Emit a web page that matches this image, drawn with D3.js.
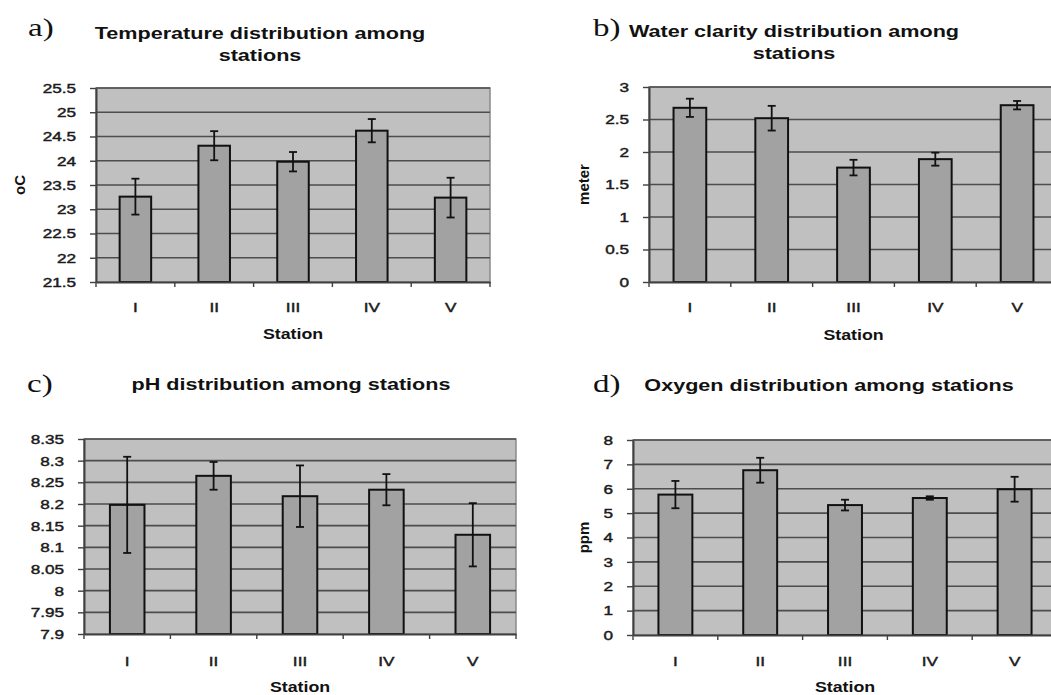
<!DOCTYPE html>
<html>
<head>
<meta charset="utf-8">
<script src="https://cdn.jsdelivr.net/npm/d3@7"></script>
<style>
  body { margin: 0; background: #fff; }
  svg { display: block; }
</style>
</head>
<body>
<div id="chart"></div>
<script>
// data
const stations = ["I", "II", "III", "IV", "V"];

const tempMean = [23.26, 24.31, 23.98, 24.62, 23.24];
const tempErr = [0.37, 0.30, 0.20, 0.24, 0.41];
const tempTicks = [21.5, 22, 22.5, 23, 23.5, 24, 24.5, 25, 25.5];

const clarityMean = [2.68, 2.52, 1.76, 1.89, 2.72];
const clarityErr = [0.14, 0.19, 0.12, 0.10, 0.065];
const clarityTicks = [0, 0.5, 1, 1.5, 2, 2.5, 3];

const phMean = [8.198, 8.265, 8.218, 8.233, 8.129];
const phErr = [0.111, 0.032, 0.071, 0.036, 0.073];
const phTicks = [7.9, 7.95, 8, 8.05, 8.1, 8.15, 8.2, 8.25, 8.3, 8.35];

const oxyMean = [5.76, 6.76, 5.33, 5.62, 5.98];
const oxyErr = [0.56, 0.51, 0.22, 0.07, 0.51];
const oxyTicks = [0, 1, 2, 3, 4, 5, 6, 7, 8];

const width = 1051;
const height = 695;
// the scanned figure is stretched sideways, so text gets the same stretch
const SX = 1.27;

const panels = [
  { tag: "a)", tagX: 28, tagY: 36, title: ["Temperature distribution among", "stations"],
    titleX: 260, titleY: 39, ylabel: "oC", ylabelX: 20,
    mean: tempMean, err: tempErr, ticks: tempTicks,
    left: 96, right: 490, top: 88, bottom: 282, tickY: 312, xlabelY: 339 },
  { tag: "b)", tagX: 593, tagY: 36, title: ["Water clarity distribution among", "stations"],
    titleX: 794, titleY: 37, ylabel: "meter", ylabelX: 584,
    mean: clarityMean, err: clarityErr, ticks: clarityTicks,
    left: 649, right: 1058, top: 87, bottom: 282, tickY: 312, xlabelY: 340 },
  { tag: "c)", tagX: 27, tagY: 392, title: ["pH distribution among stations"],
    titleX: 291, titleY: 390, ylabel: null,
    mean: phMean, err: phErr, ticks: phTicks,
    left: 84, right: 516, top: 439, bottom: 634, tickY: 666, xlabelY: 692 },
  { tag: "d)", tagX: 593, tagY: 392, title: ["Oxygen distribution among stations"],
    titleX: 829, titleY: 391, ylabel: "ppm", ylabelX: 584,
    mean: oxyMean, err: oxyErr, ticks: oxyTicks,
    left: 633, right: 1057, top: 440, bottom: 635, tickY: 666, xlabelY: 692 }
];

const svg = d3.select("#chart").append("svg")
  .attr("width", width)
  .attr("height", height)
  .style("font-family", "'Liberation Sans', Arial, sans-serif");

svg.append("rect").attr("width", width).attr("height", height).attr("fill", "#fff");

// text placed at x,y and stretched horizontally
function putText(g, str, x, y) {
  return g.append("text")
    .attr("transform", `translate(${x},${y}) scale(${SX},1)`)
    .text(str);
}

// the scan makes thin labels look heavier
function thicken(sel) {
  return sel.attr("fill", "#1a1a1a")
    .attr("stroke", "#1a1a1a")
    .attr("stroke-width", 0.45);
}

panels.forEach(p => {
  const g = svg.append("g");

  const x = d3.scaleBand()
    .domain(stations)
    .range([p.left, p.right])
    .paddingInner(0.6)
    .paddingOuter(0.3);

  const y = d3.scaleLinear()
    .domain(d3.extent(p.ticks))
    .range([p.bottom, p.top]);

  // plot area
  g.append("rect")
    .attr("x", p.left)
    .attr("y", p.top)
    .attr("width", p.right - p.left)
    .attr("height", p.bottom - p.top)
    .attr("fill", "#c0c0c0")
    .attr("stroke", "#8a8a8a")
    .attr("stroke-width", 1.5);

  // gridlines
  g.append("g").selectAll("line")
    .data(p.ticks.slice(1))
    .join("line")
    .attr("x1", p.left)
    .attr("x2", p.right)
    .attr("y1", d => y(d))
    .attr("y2", d => y(d))
    .attr("stroke", "#4d4d4d")
    .attr("stroke-width", 1.6);

  // bars
  g.append("g").selectAll("rect")
    .data(stations)
    .join("rect")
    .attr("x", d => x(d))
    .attr("width", x.bandwidth())
    .attr("y", (d, i) => y(p.mean[i]))
    .attr("height", (d, i) => p.bottom - y(p.mean[i]))
    .attr("fill", "#a2a2a2")
    .attr("stroke", "#111")
    .attr("stroke-width", 2);

  // error bars
  const eb = g.append("g").selectAll("g")
    .data(stations)
    .join("g")
    .attr("stroke", "#111")
    .attr("stroke-width", 1.8);
  const cx = d => x(d) + x.bandwidth() / 2;
  eb.append("line")
    .attr("x1", cx).attr("x2", cx)
    .attr("y1", (d, i) => y(p.mean[i] + p.err[i]))
    .attr("y2", (d, i) => y(p.mean[i] - p.err[i]));
  [1, -1].forEach(s => {
    eb.append("line")
      .attr("x1", d => cx(d) - 4).attr("x2", d => cx(d) + 4)
      .attr("y1", (d, i) => y(p.mean[i] + s * p.err[i]))
      .attr("y2", (d, i) => y(p.mean[i] + s * p.err[i]));
  });

  // y axis
  const yAxis = g.append("g")
    .attr("transform", `translate(${p.left},0)`)
    .call(d3.axisLeft(y).tickValues(p.ticks).tickSize(6).tickSizeOuter(0)
      .tickFormat(d => d3.format("~g")(d)));
  yAxis.select(".domain").attr("stroke", "#404040").attr("stroke-width", 2);
  yAxis.selectAll(".tick line").attr("stroke", "#404040").attr("stroke-width", 1.4);
  yAxis.selectAll(".tick text")
    .attr("x", -20 / SX)
    .attr("transform", `scale(${SX},1)`)
    .attr("font-size", 13.5)
    .attr("font-family", "'Liberation Sans', Arial, sans-serif")
    .call(thicken);

  // x axis, ticks between the categories
  const xAxis = g.append("g")
    .attr("transform", `translate(0,${p.bottom})`)
    .call(d3.axisBottom(x).tickSize(0).tickSizeOuter(0));
  xAxis.select(".domain").attr("stroke", "#404040").attr("stroke-width", 2);
  xAxis.selectAll(".tick text")
    .attr("y", p.tickY - p.bottom)
    .attr("dy", 0)
    .attr("transform", `scale(${SX},1)`)
    .attr("x", 0)
    .attr("font-size", 13.5)
    .attr("font-family", "'Liberation Sans', Arial, sans-serif")
    .call(thicken);

  g.append("g").selectAll("line")
    .data(d3.range(stations.length + 1))
    .join("line")
    .attr("x1", i => p.left + i * x.step())
    .attr("x2", i => p.left + i * x.step())
    .attr("y1", p.bottom)
    .attr("y2", p.bottom + 5)
    .attr("stroke", "#404040")
    .attr("stroke-width", 1.4);

  // x label
  putText(g, "Station", (p.left + p.right) / 2, p.xlabelY)
    .attr("text-anchor", "middle")
    .attr("font-size", 14)
    .attr("font-weight", "bold")
    .attr("fill", "#111");

  // y label
  if (p.ylabel) {
    g.append("text")
      .attr("transform", `translate(${p.ylabelX},${(p.top + p.bottom) / 2}) rotate(-90)`)
      .attr("text-anchor", "middle")
      .attr("dy", "0.35em")
      .attr("font-size", 15)
      .attr("font-weight", "bold")
      .attr("fill", "#111")
      .text(p.ylabel);
  }

  // title
  p.title.forEach((line, k) => {
    putText(g, line, p.titleX, p.titleY + k * 21.5)
      .attr("text-anchor", "middle")
      .attr("font-size", 17)
      .attr("font-weight", "bold")
      .attr("fill", "#111");
  });

  // panel letter
  putText(g, p.tag, p.tagX, p.tagY)
    .attr("font-family", "'Liberation Serif', 'Times New Roman', serif")
    .attr("font-size", 26)
    .attr("fill", "#111");
});
</script>
</body>
</html>
